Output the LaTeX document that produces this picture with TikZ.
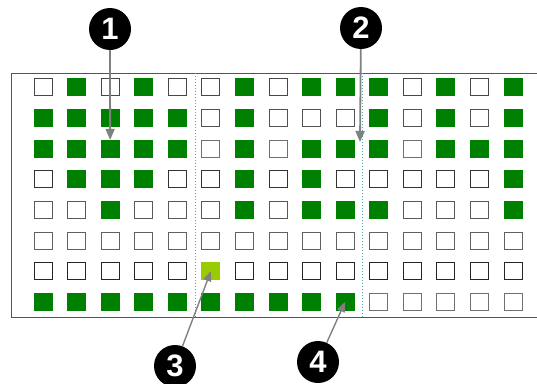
\documentclass[tikz,border=0pt]{standalone}
\usepackage{fontspec}
\setmainfont{Liberation Sans}
\usetikzlibrary{arrows.meta}
\definecolor{cellgreen}{HTML}{008000}
\definecolor{litegreen}{HTML}{99CC00}
\definecolor{septeal}{HTML}{4FA5A8}
\definecolor{arrowgray}{HTML}{808080}
\definecolor{framegray}{HTML}{555555}
\begin{document}
\begin{tikzpicture}[x=1pt,y=-1pt,
  cell/.style={line width=0.8pt, minimum width=18pt, minimum height=17pt, inner sep=0pt, outer sep=0pt},
  emptycell/.style={draw=\oc, fill=white},
  fullcell/.style={draw=cellgreen, fill=cellgreen},
  litecell/.style={draw=litegreen, fill=litegreen},
  kind/.code={\ifcase#1\relax\tikzset{emptycell}\or\tikzset{fullcell}\or\tikzset{litecell}\fi},
  sepline/.style={septeal, dotted, line width=1pt},
  callout/.style={circle, fill=black, text=white, minimum size=42pt, inner sep=0pt,
    font=\bfseries\fontsize{31}{31}\selectfont},
  callarrow/.style={arrowgray, line width=1.8pt, -{Triangle[width=9pt,length=11pt]}},
  thinarrow/.style={arrowgray, line width=1.4pt, -{Triangle[width=8pt,length=10pt]}}
]
\useasboundingbox (0,0) rectangle (537,383);
\node[draw=framegray, line width=1pt, minimum width=527pt, minimum height=244pt,
  inner sep=0pt, anchor=north west] (frame) at (11,73) {};
\coordinate (d1) at (195,0);
\coordinate (d2) at (362.8,0);
\draw[sepline] (d1 |- frame.north) -- (d1 |- frame.south);
\draw[sepline] (d2 |- frame.north) -- (d2 |- frame.south);
\foreach \r/\oc/\pat in {
  1/black!72/{0,1,0,1,0,0,1,0,1,1,1,0,1,0,1},
  2/black!68/{1,1,1,1,1,0,1,0,0,0,1,0,1,0,1},
  3/black!56/{1,1,1,1,1,0,1,0,1,1,1,0,1,1,1},
  4/black!80/{0,1,1,1,0,0,1,0,1,0,0,0,0,0,1},
  5/black!65/{0,0,1,0,0,0,1,0,1,1,1,0,0,0,1},
  6/black!62/{0,0,0,0,0,0,0,0,0,0,0,0,0,0,0},
  7/black!85/{0,0,0,0,0,2,0,0,0,0,0,0,0,0,0},
  8/black!56/{1,1,1,1,1,1,1,1,1,1,0,0,0,0,0}}{
  \foreach \v [count=\c] in \pat {
    \node[cell, kind=\v] (s-\r-\c) at ({43+(\c-1)*33.57},{87+(\r-1)*30.7}) {};
  }
}
\node[callout] (c1) at (110,29) {1};
\node[callout] (c2) at (361,28) {2};
\node[callout] (c3) at (175,366) {3};
\node[callout] (c4) at (318,362) {4};
\coordinate (t2) at (360,142);
\draw[callarrow] (c1) -- (s-3-3.north);
\draw[callarrow] (c2) -- (t2);
\draw[thinarrow] (c3) -- (s-7-6.center);
\draw[thinarrow] (c4) -- (s-8-10.center);
\end{tikzpicture}
\end{document}
